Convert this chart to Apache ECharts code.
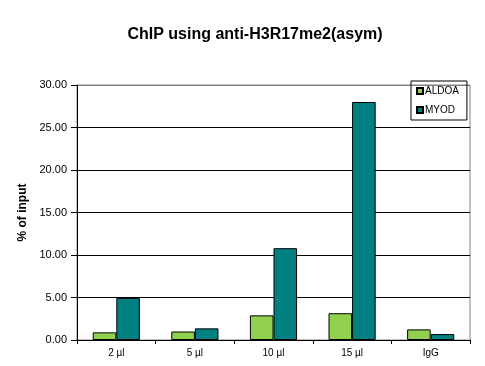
<!DOCTYPE html>
<html><head><meta charset="utf-8">
<script src="https://cdn.jsdelivr.net/npm/echarts@6/dist/echarts.min.js"></script>
<style>html,body{margin:0;padding:0;background:#fff}#c{width:485px;height:366px}</style>
</head><body><div id="c"></div>
<script>
var categories = ['2 µl', '5 µl', '10 µl', '15 µl', 'IgG'];
var aldoa = [0.9, 1.0, 2.9, 3.15, 1.25];
var myod = [4.95, 1.37, 10.8, 28.0, 0.7];
var seriesNames = ['ALDOA', 'MYOD'];
var chart = echarts.init(document.getElementById('c'));
var font = 'Arial, "Liberation Sans", sans-serif';
chart.setOption({
  animation: false,
  backgroundColor: '#fff',
  title: {
    text: 'ChIP using anti-H3R17me2(asym)',
    left: 250, top: 22, textAlign: 'center',
    textStyle: {fontFamily: font, fontSize: 16, fontWeight: 'bold', color: '#000'}
  },
  legend: {
    orient: 'vertical', left: 411, top: 81,
    width: 54,
    padding: [5, 8, 5, 5],
    borderColor: '#000', borderWidth: 1,
    itemWidth: 6, itemHeight: 6, itemGap: 9,
    icon: 'rect',
    textStyle: {fontFamily: font, fontSize: 10, color: '#000', padding: [0,0,0,-3]},
    data: seriesNames
  },
  grid: {left: 77, right: 15, top: 85, bottom: 26, show: true, borderColor: '#808080', borderWidth: 1},
  xAxis: {
    type: 'category', data: categories,
    axisLine: {lineStyle: {color: '#000'}},
    axisTick: {show: true, length: 4, lineStyle: {color: '#000'}},
    axisLabel: {fontFamily: font, fontSize: 10, color: '#000', margin: 8}
  },
  yAxis: {
    type: 'value', min: 0, max: 30, interval: 5,
    name: '% of input', nameLocation: 'middle', nameGap: 40,
    nameTextStyle: {fontFamily: font, fontSize: 12, fontWeight: 'bold', color: '#000'},
    axisLine: {show: true, lineStyle: {color: '#000'}},
    axisTick: {show: true, length: 6, lineStyle: {color: '#000'}},
    axisLabel: {fontFamily: font, fontSize: 11, color: '#000', margin: 10, formatter: function(v){return v.toFixed(2);}},
    splitLine: {show: true, lineStyle: {color: ['#000','#000','#000','#000','#000','#000','#808080']}}
  },
  series: [
    {name: 'ALDOA', type: 'bar', data: aldoa, barGap: '0%', barCategoryGap: '40%',
     itemStyle: {color: '#92D050', borderColor: '#000', borderWidth: 1}},
    {name: 'MYOD', type: 'bar', data: myod,
     itemStyle: {color: '#008080', borderColor: '#000', borderWidth: 1}}
  ]
});
</script></body></html>
